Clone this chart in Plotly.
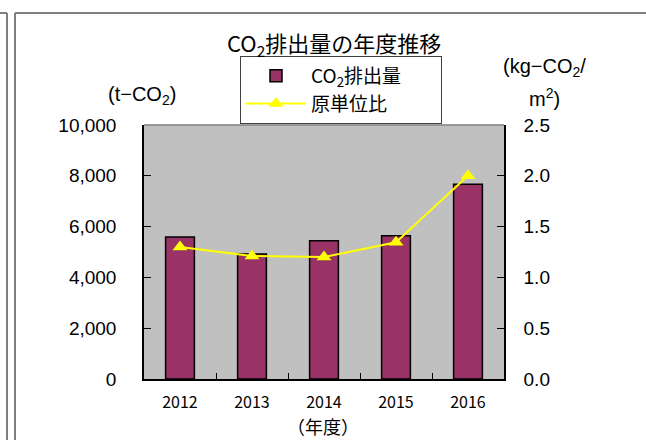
import plotly.graph_objects as go

years = ["2012", "2013", "2014", "2015", "2016"]
co2 = [5590, 4920, 5445, 5640, 7665]
ratio = [1.30, 1.21, 1.20, 1.345, 2.00]
left_ticks = [0, 2000, 4000, 6000, 8000, 10000]
left_labels = ["0", "2,000", "4,000", "6,000", "8,000", "10,000"]
right_ticks = [0, 0.5, 1.0, 1.5, 2.0, 2.5]
right_labels = ["0.0", "0.5", "1.0", "1.5", "2.0", "2.5"]

W, H = 646, 440
L, R, T, B = 144, 504, 125, 379

def px(x):
    return (x - L) / (R - L)

def py(y):
    return (B - y) / (B - T)

NUM = "Liberation Sans, Arial, Noto Sans CJK JP"
JP = "Noto Sans CJK JP, Liberation Sans"
PAD = "\u00a0" * 8

fig = go.Figure()
fig.add_trace(go.Bar(
    x=years, y=co2, name="CO<sub>2</sub>排出量" + PAD,
    marker=dict(color="#993366", line=dict(color="black", width=1.5)),
    width=0.4,
))
fig.add_trace(go.Scatter(
    x=years, y=ratio, name="原単位比", yaxis="y2",
    mode="lines+markers",
    line=dict(color="#FFFF00", width=2),
    marker=dict(symbol="triangle-up", size=13, color="#FFFF00"),
))

shapes = [
    dict(type="line", xref="paper", yref="paper", x0=0, x1=1, y0=1, y1=1,
         line=dict(color="#808080", width=1.5)),
    dict(type="line", xref="paper", yref="paper", x0=px(7), x1=px(7), y0=py(13), y1=py(445),
         line=dict(color="#7f7f7f", width=2)),
    dict(type="line", xref="paper", yref="paper", x0=px(-5), x1=px(7), y0=py(13), y1=py(13),
         line=dict(color="#7f7f7f", width=2)),
    dict(type="line", xref="paper", yref="paper", x0=px(15), x1=px(15), y0=py(13), y1=py(445),
         line=dict(color="#7f7f7f", width=2)),
    dict(type="line", xref="paper", yref="paper", x0=px(15), x1=px(650), y0=py(13), y1=py(13),
         line=dict(color="#7f7f7f", width=2)),
]

annotations = [
    dict(text="CO<sub>2</sub>排出量の年度推移", x=px(334), y=py(44), xref="paper", yref="paper",
         showarrow=False, font=dict(family=JP, size=22, color="black"), xanchor="center", yanchor="middle"),
    dict(text="(t−CO<sub>2</sub>)", x=px(142), y=py(95), xref="paper", yref="paper",
         showarrow=False, font=dict(family=NUM, size=20, color="black"), xanchor="center", yanchor="middle"),
    dict(text="(kg−CO<sub>2</sub>/", x=px(544), y=py(68), xref="paper", yref="paper",
         showarrow=False, font=dict(family=NUM, size=20, color="black"), xanchor="center", yanchor="middle"),
    dict(text="m<sup>2</sup>)", x=px(544), y=py(97), xref="paper", yref="paper",
         showarrow=False, font=dict(family=NUM, size=20, color="black"), xanchor="center", yanchor="middle"),
    dict(text="（年度）", x=px(323), y=py(426), xref="paper", yref="paper",
         showarrow=False, font=dict(family=JP, size=18, color="black"), xanchor="center", yanchor="middle"),
]

fig.update_layout(
    width=W, height=H,
    margin=dict(l=L, r=W - R, t=T, b=H - B, pad=0),
    paper_bgcolor="white", plot_bgcolor="#C0C0C0",
    showlegend=True,
    legend=dict(x=px(240), y=py(56), xanchor="left", yanchor="top",
                bgcolor="white", bordercolor="#404040", borderwidth=1,
                font=dict(family=JP, size=19, color="black"),
                tracegroupgap=0, itemwidth=60),
    xaxis=dict(type="category", tickson="boundaries", ticks="inside", ticklen=6,
               tickcolor="black", showline=True, linecolor="black", linewidth=1.5,
               showgrid=False, tickfont=dict(family=JP, size=16, color="black"),
               ticklabelstandoff=8),
    yaxis=dict(range=[0, 10000], tickvals=left_ticks, ticktext=left_labels,
               ticks="inside", ticklen=7, tickcolor="black", showline=True,
               linecolor="black", linewidth=1.5, showgrid=False, zeroline=False,
               tickfont=dict(family=NUM, size=19, color="black"), ticklabelstandoff=22),
    yaxis2=dict(range=[0, 2.5], tickvals=right_ticks, ticktext=right_labels,
                overlaying="y", side="right", ticks="inside", ticklen=7, tickcolor="black",
                showline=True, linecolor="black", linewidth=1.5, showgrid=False, zeroline=False,
                tickfont=dict(family=NUM, size=19, color="black"), ticklabelstandoff=14),
    shapes=shapes, annotations=annotations,
)

fig.write_html("out.html", config={"displayModeBar": False},
               post_script="document.body.style.margin='0px';")
